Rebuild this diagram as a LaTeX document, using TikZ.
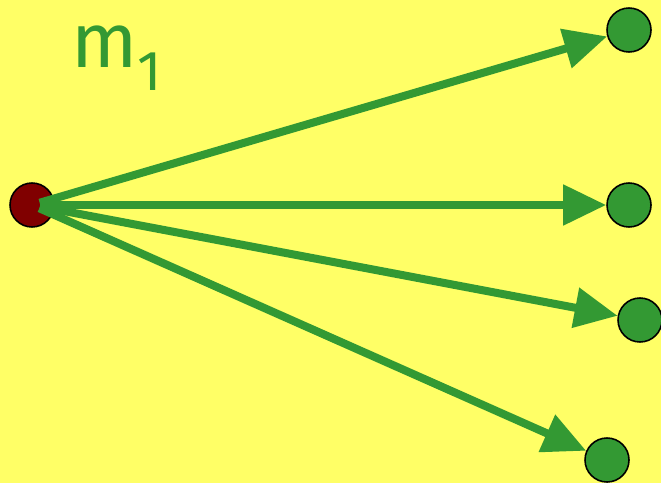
\documentclass[tikz,border=0pt]{standalone}
\usepackage{fontspec}
\setsansfont{Fira Sans}
\usetikzlibrary{arrows.meta}
\definecolor{bgYellow}{RGB}{255,255,102}
\definecolor{fanGreen}{RGB}{51,153,51}
\definecolor{srcRed}{RGB}{128,0,0}

\begin{document}
\begin{tikzpicture}[x=0.02cm,y=-0.02cm,
  dot/.style={circle,draw=black,line width=0.9pt,minimum size=0.88cm,inner sep=0pt},
  arr/.style={-{Triangle[length=0.86cm,width=0.78cm]},line width=0.16cm,
              draw=fanGreen,shorten <=0.16cm}]

% yellow page
\fill[bgYellow] (0,0) rectangle (661,483);
\useasboundingbox (0,0) rectangle (661,483);

\node[dot,fill=srcRed] (src) at (32,205) {};

\node[dot,fill=fanGreen] (t1) at (629,30) {};
\node[dot,fill=fanGreen] (t2) at (629,205) {};
\node[dot,fill=fanGreen] (t3) at (640,320) {};
\node[dot,fill=fanGreen] (t4) at (607,460) {};

\foreach \t in {t1,t2,t3,t4}
  \draw[arr] (src.center) -- (\t);

\node[text=fanGreen,font=\sffamily\fontsize{44}{44}\selectfont,inner sep=0pt]
  (lbl) at (117,58) {m\raisebox{-0.3em}{\fontsize{32}{32}\selectfont 1}};
\end{tikzpicture}
\end{document}
